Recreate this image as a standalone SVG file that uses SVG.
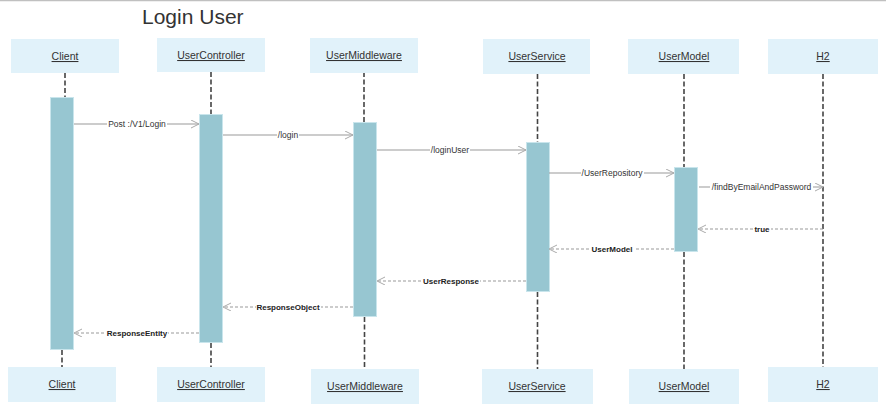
<svg xmlns="http://www.w3.org/2000/svg" width="886" height="408" viewBox="0 0 886 408">
<style>
.box{fill:#e1f2fa;}
.boxt{font-family:"Liberation Sans",Arial,sans-serif;font-size:10.5px;fill:#333;text-anchor:middle;text-decoration:underline;}
.life{stroke:#444;stroke-width:1.6;stroke-dasharray:5 2.5;fill:none;}
.act{fill:#97c6d1;stroke:#c9e5ec;stroke-width:1;}
.call{stroke:#999;stroke-width:1;fill:none;marker-end:url(#open);}
.ret{stroke:#999;stroke-width:1;stroke-dasharray:3 2;fill:none;marker-end:url(#open);}
.lbg{fill:#fff;}
.clbl{font-family:"Liberation Sans",Arial,sans-serif;font-size:8.5px;fill:#333;text-anchor:middle;}
.rlbl{font-family:"Liberation Sans",Arial,sans-serif;font-size:8px;font-weight:bold;fill:#222;text-anchor:middle;}
</style>
<defs>
<marker id="open" markerUnits="userSpaceOnUse" markerWidth="10" markerHeight="10" refX="8" refY="4" orient="auto" viewBox="0 0 10 10">
<path d="M0,0 L8,4 L0,8" fill="none" stroke="#aaa" stroke-width="1"/>
</marker>
</defs>
<rect x="0" y="0" width="886" height="408" fill="#fff"/>
<line x1="0" y1="0.5" x2="886" y2="0.5" stroke="#c0c0c0" stroke-width="1.5"/>
<text x="142" y="24" font-family="Liberation Sans,Arial,sans-serif" font-size="21" fill="#333">Login User</text>

<g id="lifelines">
<line class="life" x1="65" y1="73" x2="65" y2="97"/>
<line class="life" x1="62" y1="350" x2="62" y2="367"/>
<line class="life" x1="211" y1="72" x2="211" y2="114"/>
<line class="life" x1="211" y1="343" x2="211" y2="367"/>
<line class="life" x1="364" y1="72" x2="364" y2="122"/>
<line class="life" x1="364.5" y1="317" x2="364.5" y2="369"/>
<line class="life" x1="537.5" y1="74" x2="537.5" y2="142"/>
<line class="life" x1="537.5" y1="292" x2="537.5" y2="369"/>
<line class="life" x1="684" y1="74" x2="684" y2="167"/>
<line class="life" x1="684" y1="252" x2="684" y2="369"/>
<line class="life" x1="823" y1="74" x2="823" y2="367"/>
</g>

<g id="node-client-top"><rect class="box" x="11" y="39" width="108" height="34"/><text class="boxt" x="65" y="60">Client</text></g>
<g id="node-usercontroller-top"><rect class="box" x="157" y="38" width="108" height="34"/><text class="boxt" x="211" y="59">UserController</text></g>
<g id="node-usermiddleware-top"><rect class="box" x="310" y="38" width="108" height="35"/><text class="boxt" x="364" y="59">UserMiddleware</text></g>
<g id="node-userservice-top"><rect class="box" x="483" y="39" width="107" height="35"/><text class="boxt" x="537" y="60">UserService</text></g>
<g id="node-usermodel-top"><rect class="box" x="628" y="39" width="111" height="35"/><text class="boxt" x="684" y="60">UserModel</text></g>
<g id="node-h2-top"><rect class="box" x="768" y="39" width="110" height="35"/><text class="boxt" x="823" y="60">H2</text></g>

<g id="node-client-bottom"><rect class="box" x="8" y="367" width="108" height="35"/><text class="boxt" x="62" y="388">Client</text></g>
<g id="node-usercontroller-bottom"><rect class="box" x="157" y="367" width="108" height="35"/><text class="boxt" x="211" y="388">UserController</text></g>
<g id="node-usermiddleware-bottom"><rect class="box" x="311" y="369" width="108" height="35"/><text class="boxt" x="365" y="390">UserMiddleware</text></g>
<g id="node-userservice-bottom"><rect class="box" x="482" y="369" width="111" height="35"/><text class="boxt" x="537" y="390">UserService</text></g>
<g id="node-usermodel-bottom"><rect class="box" x="629" y="369" width="110" height="35"/><text class="boxt" x="684" y="390">UserModel</text></g>
<g id="node-h2-bottom"><rect class="box" x="768" y="367" width="110" height="35"/><text class="boxt" x="823" y="388">H2</text></g>

<g id="activations">
<rect class="act" x="50.5" y="97.5" width="23" height="252"/>
<rect class="act" x="199.5" y="114.5" width="23" height="228"/>
<rect class="act" x="353.5" y="122.5" width="23" height="194"/>
<rect class="act" x="526.5" y="142.5" width="23" height="149"/>
<rect class="act" x="674.5" y="167.5" width="23" height="84"/>
</g>

<g id="connectors">
<line class="call" x1="74" y1="124" x2="199" y2="124"/>
<rect class="lbg" x="107" y="119" width="60" height="10"/>
<text class="clbl" x="137" y="127">Post :/V1/Login</text>

<line class="call" x1="223" y1="135" x2="353" y2="135"/>
<rect class="lbg" x="277" y="130" width="22" height="10"/>
<text class="clbl" x="288" y="138">/login</text>

<line class="call" x1="377" y1="150" x2="526" y2="150"/>
<rect class="lbg" x="430" y="145" width="40" height="10"/>
<text class="clbl" x="450" y="153">/loginUser</text>

<line class="call" x1="549" y1="173" x2="674" y2="173"/>
<rect class="lbg" x="581" y="168" width="63" height="10"/>
<text class="clbl" x="612" y="176">/UserRepository</text>

<line class="call" x1="699" y1="187" x2="823" y2="187"/>
<rect class="lbg" x="710" y="182" width="103" height="10"/>
<text class="clbl" x="761.5" y="190">/findByEmailAndPassword</text>

<line class="ret" x1="823" y1="229" x2="698" y2="229"/>
<rect class="lbg" x="753" y="224" width="18" height="10"/>
<text class="rlbl" x="762" y="232">true</text>

<line class="ret" x1="674" y1="249" x2="549" y2="249"/>
<rect class="lbg" x="590" y="244" width="44" height="10"/>
<text class="rlbl" x="612" y="252">UserModel</text>

<line class="ret" x1="526" y1="281" x2="377" y2="281"/>
<rect class="lbg" x="422" y="276" width="58" height="10"/>
<text class="rlbl" x="451" y="284">UserResponse</text>

<line class="ret" x1="353" y1="307" x2="223" y2="307"/>
<rect class="lbg" x="256" y="302" width="65" height="10"/>
<text class="rlbl" x="288" y="310">ResponseObject</text>

<line class="ret" x1="199" y1="333" x2="74" y2="333"/>
<rect class="lbg" x="106" y="328" width="62" height="10"/>
<text class="rlbl" x="137" y="336">ResponseEntity</text>
</g>
</svg>
